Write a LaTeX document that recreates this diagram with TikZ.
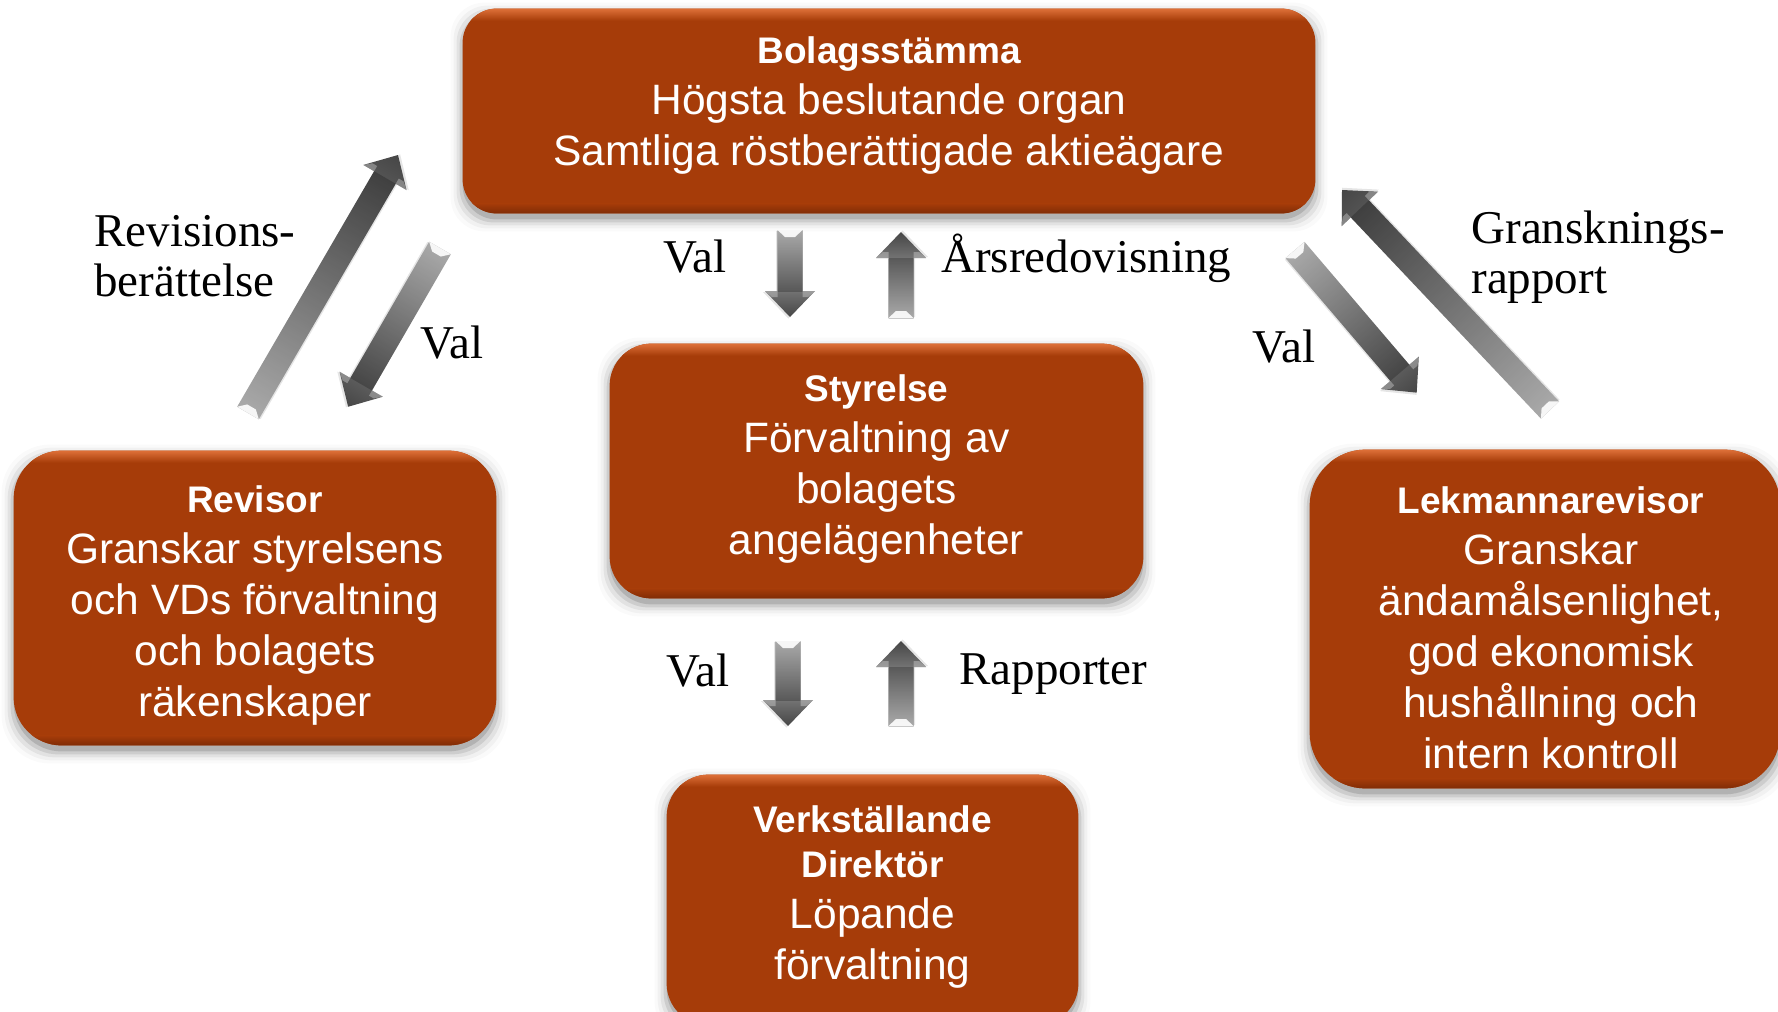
\documentclass[tikz,border=0pt]{standalone}
\usepackage{fontspec}
\setmainfont{Liberation Serif}
\newfontfamily\boxfont{Liberation Sans}
\usetikzlibrary{calc,backgrounds}
\definecolor{boxcol}{RGB}{166,60,9}
\definecolor{boxlight}{RGB}{222,112,56}
\definecolor{boxdark}{RGB}{128,44,6}
\definecolor{arrdark}{RGB}{70,70,70}
\definecolor{arrlight}{RGB}{218,218,218}
\tikzset{
  boxshape/.style={inner sep=0pt},
  boxtext/.style={text=white, align=center, inner sep=0pt,
    font=\boxfont\fontsize{21.25}{25.5}\selectfont},
  lbl/.style={font=\fontsize{23.5}{25}\selectfont, inner sep=0pt, align=left},
}
\newcommand\boxtitle[1]{{\fontsize{18.5}{22}\selectfont\bfseries #1}}
% name, center, width, height, radius, text offset, text
\newcommand\orgbox[7]{%
  \node[boxshape, minimum width=#3, minimum height=#4] (#1) at (#2) {};
  \node[boxtext] (#1txt) at ($(#1.center)+(#6)$) {#7};
  \begin{pgfonlayer}{background}
    \foreach \k/\o in {0/0.13,1.5/0.09,3/0.06,4.5/0.035,6/0.02}{%
      \fill[black,opacity=\o,rounded corners=#5]
        ([xshift=-\k pt,yshift=-3pt-\k pt]#1.south west) rectangle
        ([xshift=\k pt,yshift=-3pt+\k pt]#1.north east);}
    \fill[boxcol, rounded corners=#5] (#1.south west) rectangle (#1.north east);
    \begin{scope}
      \clip[rounded corners=#5] (#1.south west) rectangle (#1.north east);
      \shade[top color=boxlight, bottom color=boxcol]
        (#1.north west) rectangle ([yshift=-6pt]#1.north east);
      \shade[top color=boxcol, bottom color=boxdark]
        ([yshift=5pt]#1.south west) rectangle (#1.south east);
    \end{scope}
  \end{pgfonlayer}}
% block arrow from tail coordinate to tip coordinate
\newcommand\blockarrow[2]{%
  \path let \p1=($(#2)-(#1)$) in \pgfextra{%
    \pgfmathsetmacro\tmpang{atan2(\y1,\x1)}%
    \pgfmathsetmacro\tmplen{veclen(\x1,\y1)}%
    \xdef\barang{\tmpang}\xdef\barlen{\tmplen}};
  \pgfmathsetmacro\barneck{\barlen-13}%
  \begin{scope}[transform canvas={shift={(#1)},rotate=\barang}]
    \fill[black,opacity=0.10] (0.5pt,-7pt) -- (\barneck pt+0.5pt,-7pt) -- (\barneck pt+0.5pt,-13.5pt)
      -- (\barlen pt+0.8pt,-0.8pt) -- (\barneck pt,12pt) -- (\barneck pt,6pt) -- (0pt,6pt) -- cycle;
    \shade[left color=arrlight, right color=arrdark]
      (0pt,-6.25pt) -- (\barneck pt,-6.25pt) -- (\barneck pt,-12.5pt) -- (\barlen pt,0pt)
      -- (\barneck pt,12.5pt) -- (\barneck pt,6.25pt) -- (0pt,6.25pt) -- cycle;
    \shade[top color=black, middle color=white, bottom color=black, opacity=0.22]
      (0pt,-6.25pt) rectangle (\barneck pt,6.25pt);
    \fill[white,opacity=0.9] (0pt,-6.25pt) -- (3.5pt,-2.5pt) -- (3.5pt,2.5pt) -- (0pt,6.25pt) -- cycle;
    \fill[white,opacity=0.3] (\barneck pt,-12.5pt) -- (\barneck pt+3pt,-9pt) -- (\barneck pt+3pt,-6.25pt) -- (\barneck pt,-6.25pt) -- cycle;
    \fill[white,opacity=0.3] (\barneck pt,12.5pt) -- (\barneck pt+3pt,9pt) -- (\barneck pt+3pt,6.25pt) -- (\barneck pt,6.25pt) -- cycle;
  \end{scope}}
\begin{document}
\begin{tikzpicture}[x=0.5pt,y=-0.5pt]
\begin{pgfonlayer}{background}
\fill[white] (0,0) rectangle (1778,1012);
\end{pgfonlayer}
\useasboundingbox (0,0) rectangle (1778,1012);

\orgbox{bolag}{889,111}{426pt}{102pt}{17pt}{0,-5}{\boxtitle{Bolagsstämma}\\Högsta beslutande organ\\Samtliga röstberättigade aktieägare}
\orgbox{styr}{876.5,471}{266.5pt}{127pt}{21pt}{0,-2}{\boxtitle{Styrelse}\\Förvaltning av\\bolagets\\angelägenheter}
\orgbox{rev}{255,598}{241pt}{147pt}{24pt}{0,7}{\boxtitle{Revisor}\\Granskar styrelsens\\och VDs förvaltning\\och bolagets\\räkenskaper}
\orgbox{lek}{1545,619}{235pt}{169pt}{28pt}{6,9}{\boxtitle{Lekmannarevisor}\\Granskar\\ändamålsenlighet,\\god ekonomisk\\hushållning och\\intern kontroll}
\orgbox{vd}{872.5,900}{205.5pt}{125pt}{21pt}{0,-3}{\boxtitle{Verkställande}\\[-3pt]\boxtitle{Direktör}\\Löpande\\förvaltning}

% arrow end points
\coordinate (a1t) at (790,230);  \coordinate (a1h) at (790,317);
\coordinate (a2t) at (901,318);  \coordinate (a2h) at (901,232);
\coordinate (a3t) at (788,641);  \coordinate (a3h) at (788,726);
\coordinate (a4t) at (901,726);  \coordinate (a4h) at (901,641);
\coordinate (a5t) at (248,413);  \coordinate (a5h) at (398,155);
\coordinate (a6t) at (440,248);  \coordinate (a6h) at (348,407);
\coordinate (a7t) at (1550,410); \coordinate (a7h) at (1342,190);
\coordinate (a8t) at (1295,250); \coordinate (a8h) at (1417,393);

\blockarrow{a1t}{a1h}
\blockarrow{a2t}{a2h}
\blockarrow{a3t}{a3h}
\blockarrow{a4t}{a4h}
\blockarrow{a5t}{a5h}
\blockarrow{a6t}{a6h}
\blockarrow{a7t}{a7h}
\blockarrow{a8t}{a8h}

% labels
\node[lbl, anchor=west] (revlbl) at (94,256) {Revisions-\\berättelse};
\node[lbl, anchor=base west] (vall) at (420,358) {Val};
\node[lbl, anchor=base west] (valt) at (663,272) {Val};
\node[lbl, anchor=base west] (ars) at (941,272) {Årsredovisning};
\node[lbl, anchor=west] (granlbl) at (1471,257) {Gransknings-\\rapport};
\node[lbl, anchor=base west] (valr) at (1252,362) {Val};
\node[lbl, anchor=base west] (valb) at (666,686) {Val};
\node[lbl, anchor=base west] (rapp) at (959,684) {Rapporter};
\end{tikzpicture}
\end{document}
